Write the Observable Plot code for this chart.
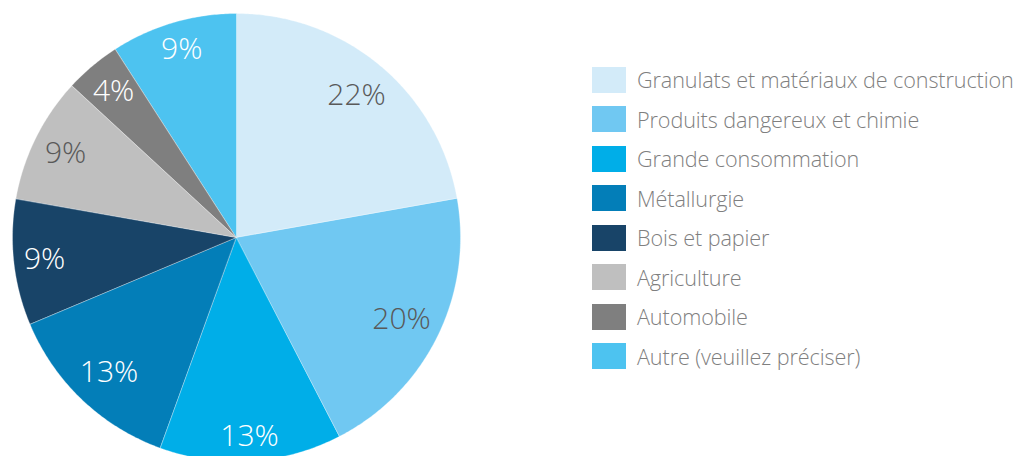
<!DOCTYPE html>
<html><head><meta charset="utf-8">
<script src="https://cdn.jsdelivr.net/npm/d3@7"></script>
<script src="https://cdn.jsdelivr.net/npm/@observablehq/plot@0.6"></script>
<style>
body{margin:0;background:#fff;}
#wrap{position:relative;width:1017px;height:456px;overflow:hidden;font-family:"Open Sans",sans-serif;}
#pie{position:absolute;left:0;top:0;}
#legend{position:absolute;left:592px;top:60px;}
.row{display:flex;align-items:center;height:39.5px;}
.sw{width:34px;height:26px;margin-right:11px;flex:none;}
.lab{font-size:21.6px;font-weight:300;color:#7f7f7f;white-space:nowrap;letter-spacing:-0.1px;}
</style></head>
<body><div id="wrap"><div id="pie"></div><div id="legend"></div></div>
<script>
const categories = ["Granulats et matériaux de construction","Produits dangereux et chimie","Grande consommation","Métallurgie","Bois et papier","Agriculture","Automobile","Autre (veuillez préciser)"];
const values = [22,20,13,13,9,9,4,9];
const colors = ["#d3ebf9","#70c8f2","#00aee8","#037eb8","#184468","#bfbfbf","#7f7f7f","#4dc3f0"];

const R = 224;              // pixel radius
const fontSize = 30;
const font = `300 ${fontSize}px "Open Sans"`;
const total = d3.sum(values);
let cum = 0;
const slices = values.map((v,i)=>{const a0=cum/total*2*Math.PI; cum+=v; const a1=cum/total*2*Math.PI; return {cat:categories[i], v, a0, a1, color:colors[i]};});

// wedge outline rows (center + arc sampling)
const rows = [];
for (const s of slices) {
  const n = Math.max(2, Math.ceil((s.a1-s.a0)/0.01));
  for (let k=0;k<=n;k++){const a=s.a0+(s.a1-s.a0)*k/n; rows.push({cat:s.cat,x1:0,y1:0,x2:Math.sin(a),y2:Math.cos(a)});}
}

// labels: inside-end placement, far box corner at R - pad
const ctx = document.createElement("canvas").getContext("2d");
ctx.font = font;
const pad = 8, h = 28;
const labels = slices.map(s=>{
  const text = `${s.v}%`;
  const w = ctx.measureText(text).width;
  const a=(s.a0+s.a1)/2, ux=Math.sin(a), uy=Math.cos(a);
  const cx=Math.sign(ux)*w/2, cy=Math.sign(uy)*h/2;
  const target=R-pad;
  const b=ux*cx+uy*cy, c=cx*cx+cy*cy-target*target;
  const d=-b+Math.sqrt(b*b-c);
  const l = d3.hsl(s.color).l;
  return {text, x:d*ux/R, y:d*uy/R, dark: l>0.65};
});

const chart = Plot.plot({
  width:480, height:456, margin:0,
  x:{domain:[-1,1], range:[12.5,460.5], axis:null},
  y:{domain:[1,-1], range:[13.5,461.5], axis:null},
  color:{domain:categories, range:colors},
  style:{background:"transparent"},
  marks:[
    Plot.area(rows,{x1:"x1",y1:"y1",x2:"x2",y2:"y2",z:"cat",fill:"cat",stroke:"#ffffff",strokeWidth:0.6,strokeOpacity:0.5}),
    Plot.text(labels.filter(d=>d.dark),{x:"x",y:"y",text:"text",fill:"#595959",fontSize,fontWeight:300,fontFamily:"Open Sans"}),
    Plot.text(labels.filter(d=>!d.dark),{x:"x",y:"y",text:"text",fill:"#ffffff",fontSize,fontWeight:300,fontFamily:"Open Sans"})
  ]
});
document.getElementById("pie").appendChild(chart);

const leg = document.getElementById("legend");
categories.forEach((c,i)=>{
  const r=document.createElement("div"); r.className="row";
  const sw=document.createElement("div"); sw.className="sw"; sw.style.background=colors[i];
  const t=document.createElement("span"); t.className="lab"; t.textContent=c;
  r.appendChild(sw); r.appendChild(t); leg.appendChild(r);
});
</script></body></html>
